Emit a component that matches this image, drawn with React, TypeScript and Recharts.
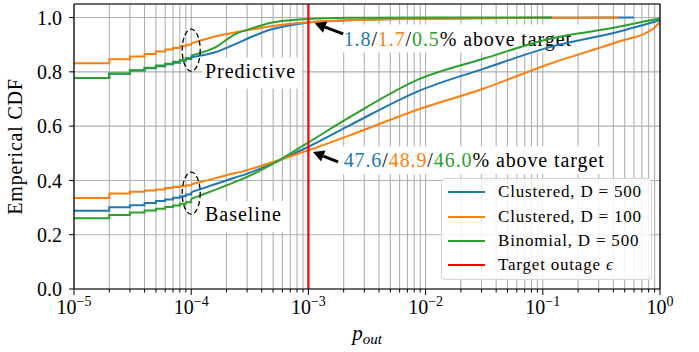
import React from 'react';
import {
  LineChart,
  Line,
  XAxis,
  YAxis,
  CartesianGrid,
  ReferenceLine,
  ReferenceDot,
  Legend,
} from 'recharts';

// matplotlib tab colours
const BLUE = '#1f77b4';
const ORANGE = '#ff7f0e';
const GREEN = '#2ca02c';
const RED = '#ff0000';
const FONT = "'Liberation Serif', 'DejaVu Serif', serif";

// p_out is a multiple of 1e-5, so the CDF is a staircase at the low end
const stepX = [1e-5, 2e-5, 3e-5, 4e-5, 5e-5, 6e-5, 7e-5, 8e-5, 9e-5, 1e-4];

const baseBlueSteps = [0.288, 0.301, 0.309, 0.317, 0.324, 0.33, 0.336, 0.342, 0.348, 0.357];
const baseOrangeSteps = [0.335, 0.352, 0.358, 0.363, 0.367, 0.372, 0.376, 0.379, 0.382, 0.386];
const baseGreenSteps = [0.261, 0.273, 0.282, 0.289, 0.296, 0.302, 0.308, 0.314, 0.32, 0.332];

const predBlueSteps = [0.777, 0.793, 0.805, 0.813, 0.821, 0.828, 0.834, 0.841, 0.847, 0.854];
const predOrangeSteps = [0.832, 0.846, 0.857, 0.866, 0.875, 0.882, 0.888, 0.894, 0.9, 0.905];
const predGreenSteps = [0.777, 0.794, 0.806, 0.815, 0.823, 0.83, 0.837, 0.844, 0.851, 0.86];

// smooth part of the baseline curves
const baseX = [1e-4, 1.2e-4, 2e-4, 3e-4, 5e-4, 1e-3, 2.25e-3, 9e-3, 3.1e-2, 0.115, 0.425, 0.87, 1];
const baseBlue = [0.357, 0.368, 0.4, 0.425, 0.464, 0.524, 0.603, 0.732, 0.811, 0.891, 0.946, 0.983, 0.99];
const baseOrange = [0.386, 0.394, 0.419, 0.438, 0.468, 0.511, 0.566, 0.664, 0.738, 0.83, 0.909, 0.958, 0.985];
const baseGreen = [0.332, 0.345, 0.382, 0.413, 0.462, 0.54, 0.633, 0.775, 0.848, 0.922, 0.964, 0.992, 0.997];

// smooth part of the predictive curves
const predX = [1e-4, 1.6e-4, 2.4e-4, 3.4e-4, 4.7e-4, 7e-4, 1e-3, 2.2e-3, 1e-2, 0.1];
const predBlue = [0.854, 0.872, 0.903, 0.932, 0.955, 0.972, 0.982, 0.99, 0.996, 0.999];
const predOrange = [0.905, 0.93, 0.946, 0.957, 0.967, 0.977, 0.983, 0.99, 0.996, 0.999];
const predGreen = [0.86, 0.89, 0.94, 0.962, 0.98, 0.99, 0.995, 0.999, 1.0, 1.0];
// largest observed p_out of each predictive run (blue, orange, green)
const predEndX = [0.6, 0.44, 0.12];

const targetOutage = 1e-3;

const aboveTargetPred = ['1.8', '1.7', '0.5'];
const aboveTargetBase = ['47.6', '48.9', '46.0'];

const legendLabels = ['Clustered, D = 500', 'Clustered, D = 100', 'Binomial, D = 500', 'Target outage'];
const legendColors = [BLUE, ORANGE, GREEN, RED];

const yTicks = [0, 0.2, 0.4, 0.6, 0.8, 1.0];
const xTicks: number[] = [];
for (let e = -5; e < 0; e++) {
  for (let m = 1; m < 10; m++) xTicks.push(Number((m * Math.pow(10, e)).toPrecision(2)));
}
xTicks.push(1);

const pts = (xs: number[], ys: number[]) => xs.map((x, i) => ({ x, y: ys[i] }));

const series = [
  { color: BLUE, steps: baseBlueSteps, x: baseX, y: baseBlue },
  { color: ORANGE, steps: baseOrangeSteps, x: baseX, y: baseOrange },
  { color: GREEN, steps: baseGreenSteps, x: baseX, y: baseGreen },
  { color: BLUE, steps: predBlueSteps, x: [...predX, predEndX[0]], y: [...predBlue, 1] },
  { color: ORANGE, steps: predOrangeSteps, x: [...predX, predEndX[1]], y: [...predOrange, 1] },
  { color: GREEN, steps: predGreenSteps, x: [...predX, predEndX[2]], y: [...predGreen, 1] },
];

const XTick = (props: any) => {
  const { x, y, payload } = props;
  const v = payload.value as number;
  const lg = Math.log10(v);
  const exp = Math.round(lg);
  const major = Math.abs(lg - exp) < 1e-6;
  return (
    <g>
      <line x1={x} x2={x} y1={y} y2={y + (major ? 6 : 3.5)} stroke="#000" strokeWidth={1} />
      {major && (
        <text x={x} y={y + 25} textAnchor="middle" fontFamily={FONT} fontSize={20} fill="#000">
          10
          <tspan dy={-8} fontSize={14}>
            {exp === 0 ? '0' : '\u2212' + -exp}
          </tspan>
        </text>
      )}
    </g>
  );
};

const Ellipse = (props: any) => (
  <ellipse
    cx={props.cx}
    cy={props.cy}
    rx={9}
    ry={21}
    fill="none"
    stroke="#000"
    strokeWidth={1.3}
    strokeDasharray="5 3"
  />
);

const AboveTarget = ({ values }: { values: string[] }) => (
  <>
    {values.map((v, i) => (
      <React.Fragment key={i}>
        {i > 0 && <tspan fill="#000">/</tspan>}
        <tspan fill={legendColors[i]}>{v}</tspan>
      </React.Fragment>
    ))}
    <tspan fill="#000">% above target</tspan>
  </>
);

// white boxed text; kept beneath the curves
const BoxedText = (props: any) => {
  const { cx, cy, boxW, label, values } = props;
  const boxed = !!values;
  return (
    <g>
      <rect x={cx - (boxed ? 1 : 3)} y={cy - (boxed ? 21 : 20)} width={boxW} height={boxed ? 28 : 31} fill="#fff" />
      <text x={cx} y={cy} fontFamily={FONT} fontSize={20} letterSpacing={boxed ? 0.9 : 1} fill="#000">
        {boxed ? <AboveTarget values={values} /> : label}
      </text>
    </g>
  );
};

const Arrow = (props: any) => {
  const { x1, y1, x2, y2 } = props;
  const ang = Math.atan2(y2 - y1, x2 - x1);
  const hl = 11;
  const hw = 6;
  const bx = x2 - hl * Math.cos(ang);
  const by = y2 - hl * Math.sin(ang);
  const nx = -Math.sin(ang) * hw;
  const ny = Math.cos(ang) * hw;
  return (
    <g>
      <line x1={x1} y1={y1} x2={bx} y2={by} stroke="#000" strokeWidth={3} />
      <polygon points={`${x2},${y2} ${bx + nx},${by + ny} ${bx - nx},${by - ny}`} fill="#000" />
    </g>
  );
};

const renderLegend = () => (
  <div
    style={{
      width: 211,
      height: 102,
      boxSizing: 'border-box',
      border: '1px solid #d4d4d4',
      borderRadius: 4,
      background: 'rgba(255,255,255,0.85)',
      fontFamily: FONT,
      fontSize: 17,
      letterSpacing: 0.8,
      color: '#000',
      paddingTop: 1,
    }}
  >
    {legendLabels.map((label, i) => (
      <div key={label} style={{ height: 24.4, display: 'flex', alignItems: 'center' }}>
        <span style={{ display: 'inline-block', width: 37, height: 2, marginLeft: 6, background: legendColors[i] }} />
        <span style={{ marginLeft: 13, whiteSpace: 'nowrap' }}>
          {label}
          {i === 3 && <i> ϵ</i>}
        </span>
      </div>
    ))}
  </div>
);

export default function App() {
  const under: any = { zIndex: -50 };
  return (
    <div style={{ position: 'absolute', left: 0, top: 0, width: 699, height: 352, background: '#fff' }}>
      <LineChart width={699} height={352} margin={{ top: 4, right: 39, left: 0, bottom: 0 }}>
        <CartesianGrid stroke="#b0b0b0" strokeWidth={1.1} />
        <XAxis
          dataKey="x"
          type="number"
          scale="log"
          domain={[1e-5, 1]}
          ticks={xTicks}
          interval={0}
          allowDataOverflow
          height={63}
          tickSize={0}
          tickMargin={0}
          tickLine={false}
          axisLine={{ stroke: '#000', strokeWidth: 1.2 }}
          tick={<XTick />}
          label={{
            content: (p: any) => {
              const vb = p.viewBox;
              return (
                <text x={vb.x + vb.width / 2} y={vb.y + 51} textAnchor="middle" fontFamily={FONT} fill="#000">
                  <tspan fontSize={21} fontStyle="italic">p</tspan>
                  <tspan fontSize={15} fontStyle="italic" dy={4}>out</tspan>
                </text>
              );
            },
          }}
        />
        <YAxis
          type="number"
          domain={[0, 1.05]}
          ticks={yTicks}
          interval={0}
          width={74}
          tickSize={5}
          tickMargin={7}
          tickLine={{ stroke: '#000' }}
          axisLine={{ stroke: '#000', strokeWidth: 1.2 }}
          tickFormatter={(v: number) => v.toFixed(1)}
          tick={{ fill: '#000', fontSize: 20, fontFamily: FONT }}
          label={{
            content: (p: any) => {
              const vb = p.viewBox;
              const cx = vb.x + 22;
              const cy = vb.y + vb.height / 2;
              return (
                <text
                  x={cx}
                  y={cy}
                  transform={`rotate(-90 ${cx} ${cy})`}
                  textAnchor="middle"
                  fontFamily={FONT}
                  fontSize={20}
                  letterSpacing={0.8}
                  fill="#000"
                >
                  Emperical CDF
                </text>
              );
            },
          }}
        />

        <ReferenceDot {...under} x={1.31e-4} y={0.779} shape={(p: any) => <BoxedText {...p} label="Predictive" boxW={100} />} />
        <ReferenceDot {...under} x={1.31e-4} y={0.25} shape={(p: any) => <BoxedText {...p} label="Baseline" boxW={84} />} />
        <ReferenceDot {...under} x={2.0e-3} y={0.897} shape={(p: any) => <BoxedText {...p} values={aboveTargetPred} boxW={238} />} />
        <ReferenceDot {...under} x={2.0e-3} y={0.4485} shape={(p: any) => <BoxedText {...p} values={aboveTargetBase} boxW={267} />} />

        {series.map((s, i) => (
          <Line
            key={'s' + i}
            data={pts(stepX, s.steps)}
            dataKey="y"
            type="stepAfter"
            stroke={s.color}
            strokeWidth={2}
            dot={false}
            activeDot={false}
            isAnimationActive={false}
          />
        ))}
        {series.map((s, i) => (
          <Line
            key={'c' + i}
            data={pts(s.x, s.y)}
            dataKey="y"
            type="monotone"
            stroke={s.color}
            strokeWidth={2}
            dot={false}
            activeDot={false}
            isAnimationActive={false}
          />
        ))}

        <ReferenceLine x={targetOutage} stroke={RED} strokeWidth={2.2} />
        <ReferenceLine x={1} stroke="#000" strokeWidth={1.2} />
        <ReferenceLine y={1.05} stroke="#000" strokeWidth={1.2} />

        <ReferenceDot x={1e-4} y={0.88} shape={Ellipse} />
        <ReferenceDot x={1e-4} y={0.353} shape={Ellipse} />

        <ReferenceLine
          segment={[
            { x: 1.98e-3, y: 0.94 },
            { x: 1.134e-3, y: 0.979 },
          ]}
          shape={Arrow}
        />
        <ReferenceLine
          segment={[
            { x: 1.79e-3, y: 0.468 },
            { x: 1.096e-3, y: 0.505 },
          ]}
          shape={Arrow}
        />

        <Legend
          layout="horizontal"
          align="center"
          verticalAlign="middle"
          content={renderLegend}
          wrapperStyle={{ left: 441, top: 178, width: 211, height: 102 }}
        />
      </LineChart>
    </div>
  );
}
